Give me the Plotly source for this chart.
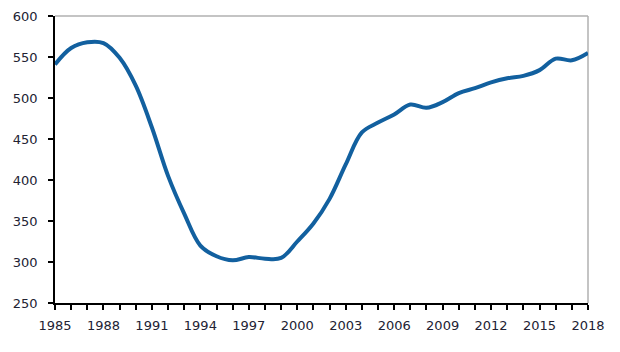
import plotly.graph_objects as go

years = list(range(1985, 2019))
values = [541, 561, 568, 567, 549, 515, 464, 405, 359, 320, 307, 302, 306, 304, 305,
          325, 347, 377, 419, 458, 470, 480, 492, 488, 495, 506, 512, 519, 524, 527,
          534, 548, 546, 555]

x_tickvals = list(range(1985, 2019, 3))
y_tickvals = [250, 300, 350, 400, 450, 500, 550, 600]

fig = go.Figure()
fig.add_trace(go.Scatter(
    x=years, y=values, mode="lines",
    line=dict(color="#12609F", width=4, shape="spline", smoothing=1.0),
    hoverinfo="skip", showlegend=False,
))

font = dict(family="DejaVu Sans", size=13, color="#222233")

fig.update_layout(
    width=620, height=352,
    margin=dict(l=55, r=32, t=9, b=49),
    paper_bgcolor="white", plot_bgcolor="white",
    font=font,
    xaxis=dict(
        range=[1985, 2018], tickvals=x_tickvals,
        ticktext=[str(v) for v in x_tickvals],
        ticks="outside", ticklen=5, tickwidth=1.5, tickcolor="black",
        ticklabelstandoff=4,
        showline=True, linecolor="black", linewidth=2,
        showgrid=False, zeroline=False,
        minor=dict(dtick=1, tick0=1985, ticks="outside", ticklen=5,
                   tickwidth=1.5, tickcolor="black", showgrid=False),
        fixedrange=True,
    ),
    yaxis=dict(
        range=[250, 600], tickvals=y_tickvals,
        ticks="outside", ticklen=5, tickwidth=1.5, tickcolor="black",
        ticklabelstandoff=8,
        showline=True, linecolor="black", linewidth=1.5,
        showgrid=False, zeroline=False, fixedrange=True,
    ),
    shapes=[
        dict(type="line", xref="paper", yref="paper", x0=0, x1=1, y0=1, y1=1,
             line=dict(color="#b0b0b0", width=1.5), layer="below"),
        dict(type="line", xref="paper", yref="paper", x0=1, x1=1, y0=0, y1=1,
             line=dict(color="#b0b0b0", width=1.5), layer="below"),
    ],
)

fig.write_html("out.html")
